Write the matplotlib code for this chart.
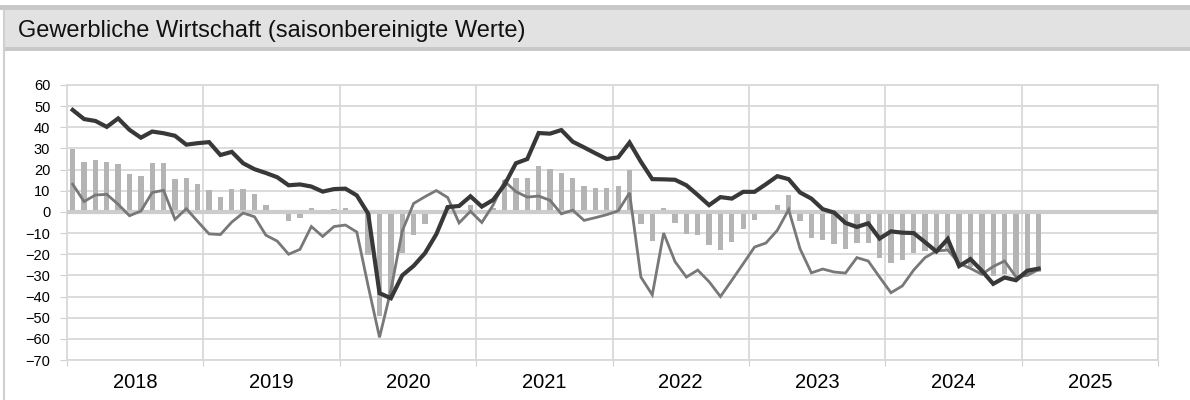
import matplotlib
matplotlib.use("Agg")
import matplotlib.pyplot as plt
from matplotlib.patches import Rectangle
from matplotlib.lines import Line2D
import numpy as np

plt.rcParams['font.family'] = ['Liberation Sans', 'DejaVu Sans']

# monthly values Jan 2018 - Feb 2025
years = ['2018', '2019', '2020', '2021', '2022', '2023', '2024', '2025']

bars = [29.6, 23.4, 24.4, 23.6, 22.8, 17.8, 17.2, 23.0, 23.0, 15.4, 15.9, 13.0,
        10.2, 7.0, 11.0, 10.7, 8.5, 3.1, 0.7, -4.4, -3.1, 2.0, -1.1, 1.6,
        1.8, -0.8, -20.3, -49.2, -40.0, -19.3, -10.7, -5.7, -0.5, 3.0, 1.0, 3.4,
        0.5, 2.0, 15.1, 16.2, 15.9, 21.9, 20.3, 18.3, 16.2, 12.3, 11.5, 11.2,
        12.4, 20.0, -5.8, -13.7, 2.0, -5.2, -10.6, -10.7, -15.8, -17.9, -14.2, -8.2,
        -3.6, -1.1, 3.5, 7.9, -4.3, -12.2, -13.4, -15.0, -17.4, -14.7, -14.5, -21.6,
        -24.2, -22.8, -19.2, -18.3, -17.0, -18.5, -25.0, -26.0, -29.0, -30.5, -29.5, -30.5,
        -30.0, -28.5]

dark = [48.2, 43.9, 43.0, 40.2, 44.2, 38.8, 35.1, 38.0, 37.2, 36.0, 31.8, 32.5,
        33.0, 26.9, 28.4, 23.0, 20.2, 18.4, 16.4, 12.6, 13.0, 12.0, 9.6, 10.8,
        11.0, 7.8, -0.8, -38.4, -40.8, -30.0, -25.5, -19.5, -10.5, 2.3, 2.8, 7.4,
        2.5, 5.7, 12.8, 23.0, 25.0, 37.3, 37.0, 38.7, 33.2, 30.5, 27.7, 25.0,
        25.8, 32.8, 23.7, 15.5, 15.4, 15.2, 12.6, 8.0, 3.2, 7.0, 6.3, 9.5,
        9.5, 13.1, 16.9, 15.5, 9.2, 6.3, 1.3, -0.3, -5.2, -7.1, -5.4, -12.6,
        -9.2, -9.8, -10.0, -14.3, -18.7, -12.8, -25.6, -22.3, -27.8, -34.0, -31.0, -32.3,
        -27.8, -26.8]

grey = [13.1, 4.9, 8.0, 8.3, 3.6, -1.8, 0.4, 9.2, 10.2, -3.5, 1.5, -4.5,
        -10.4, -10.7, -4.8, -0.5, -2.3, -11.0, -13.8, -20.0, -17.7, -6.9, -11.6, -6.9,
        -6.2, -9.5, -35.0, -59.3, -37.0, -9.0, 4.0, 7.2, 10.1, 6.8, -5.2, 0.3,
        -5.0, 3.3, 14.5, 9.6, 7.0, 7.5, 5.5, -0.9, 0.8, -4.0, -2.7, -1.3,
        0.5, 9.0, -30.8, -39.2, -10.0, -23.5, -30.8, -27.5, -33.0, -40.0, -32.3, -24.5,
        -16.6, -14.7, -8.7, 1.1, -17.4, -28.8, -27.0, -28.4, -28.9, -21.6, -23.2, -30.8,
        -38.2, -35.0, -27.5, -21.6, -18.5, -18.0, -24.3, -26.7, -29.5, -25.8, -23.2, -30.7,
        -30.0, -27.2]

W, H = 1190, 400
fig = plt.figure(figsize=(W / 100, H / 100), dpi=100)

# header band
fig.patches.append(Rectangle((0, 1 - 10 / H), 1, 5 / H, transform=fig.transFigure,
                             facecolor='#c8c8c8', edgecolor='none'))
fig.patches.append(Rectangle((3 / W, 1 - 47 / H), 1, 37 / H, transform=fig.transFigure,
                             facecolor='#e2e2e2', edgecolor='none'))
fig.patches.append(Rectangle((3 / W, 1 - 51 / H), 1, 4 / H, transform=fig.transFigure,
                             facecolor='#c8c8c8', edgecolor='none'))
fig.lines.append(Line2D([3.5 / W, 3.5 / W], [0, 1 - 10 / H], transform=fig.transFigure,
                        color='#d0d0d0', lw=1.5))
fig.text(18 / W, 1 - 31 / H, 'Gewerbliche Wirtschaft (saisonbereinigte Werte)',
         fontsize=17, va='center', ha='left', color='#111111')

ax = fig.add_axes([67 / W, 40 / H, (1158 - 67) / W, (360 - 85) / H])

n = len(bars)
x = np.arange(n) + 0.5
ax.bar(x, bars, width=0.47, color='#b4b4b4', zorder=2)
ax.axhline(0, color='#cccccc', lw=3, zorder=3)
ax.plot(x, grey, color='#787878', lw=2.0, zorder=4, solid_joinstyle='miter')
ax.plot(x, dark, color='#383838', lw=3.0, zorder=5, solid_joinstyle='miter')

ax.set_xlim(0, 96)
ax.set_ylim(-70, 60)
ax.set_yticks(range(-70, 61, 10))
ax.set_xticks(range(0, 97, 12))
ax.set_xticklabels([])
ax.set_xticks(np.arange(6, 96, 12), minor=True)
ax.set_xticklabels(years, minor=True, fontsize=14.5)
ax.tick_params(axis='x', which='minor', length=0, pad=9)
ax.tick_params(axis='x', which='major', length=4, color='#d0d0d0')
ax.tick_params(axis='y', length=5, color='#d0d0d0', labelsize=10.5, pad=7)
ax.grid(True, which='major', color='#d9d9d9', lw=1.3, zorder=0)
ax.set_axisbelow(True)
for s in ax.spines.values():
    s.set_color('#d9d9d9')
    s.set_linewidth(1.3)

fig.savefig('out.png', dpi=100)
